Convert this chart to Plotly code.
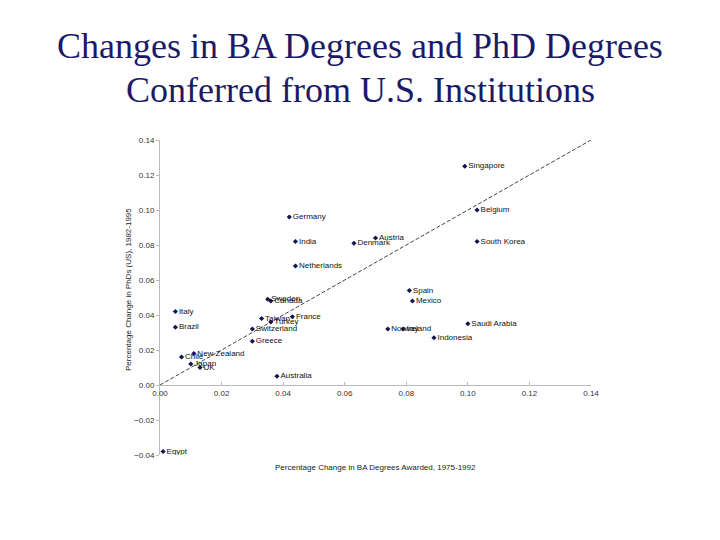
import plotly.graph_objects as go

countries = ["Singapore", "Belgium", "South Korea", "Germany", "India", "Denmark", "Austria",
             "Netherlands", "Spain", "Mexico", "Sweden", "Canada", "France", "Taiwan", "Turkey",
             "Switzerland", "Greece", "Italy", "Brazil", "New Zealand", "Chile", "Japan", "UK",
             "Australia", "Norway", "Ireland", "Indonesia", "Saudi Arabia", "Egypt"]
ba_change = [0.099, 0.103, 0.103, 0.042, 0.044, 0.063, 0.070,
             0.044, 0.081, 0.082, 0.035, 0.036, 0.043, 0.033, 0.036,
             0.030, 0.030, 0.005, 0.005, 0.011, 0.007, 0.010, 0.013,
             0.038, 0.074, 0.079, 0.089, 0.100, 0.001]
phd_change = [0.125, 0.100, 0.082, 0.096, 0.082, 0.081, 0.084,
              0.068, 0.054, 0.048, 0.049, 0.048, 0.039, 0.038, 0.036,
              0.032, 0.025, 0.042, 0.033, 0.018, 0.016, 0.012, 0.010,
              0.005, 0.032, 0.032, 0.027, 0.035, -0.038]
line_x = [0.0, 0.14]
line_y = [0.0, 0.14]
x_ticks = [0.0, 0.02, 0.04, 0.06, 0.08, 0.10, 0.12, 0.14]
y_ticks = [-0.04, -0.02, 0.0, 0.02, 0.04, 0.06, 0.08, 0.10, 0.12, 0.14]

fig = go.Figure()
fig.add_trace(go.Scatter(x=line_x, y=line_y, mode="lines",
                         line=dict(color="#444444", width=1, dash="4px,2px"),
                         hoverinfo="skip", showlegend=False))
fig.add_trace(go.Scatter(x=ba_change, y=phd_change, mode="markers+text",
                         text=countries, textposition="middle right",
                         textfont=dict(family="Liberation Sans, Arial", size=8, color="#111111"),
                         marker=dict(symbol="diamond", size=4, color="#14144f"),
                         showlegend=False))

axis_font = dict(family="Liberation Sans, Arial", size=8, color="#333333")
title_font = dict(family="Liberation Serif, Times New Roman", size=36, color="#1a1a66")
fig.update_layout(
    width=720, height=540,
    margin=dict(l=152, r=137, t=132, b=93),
    paper_bgcolor="white", plot_bgcolor="white",
    xaxis=dict(range=[0, 0.14], tickvals=x_ticks, tickformat=".2f",
               showgrid=False, zeroline=False, showline=True, linecolor="#bbbbbb", linewidth=1,
               ticks="inside", ticklen=3, tickcolor="#bbbbbb",
               anchor="free", position=0.04 / 0.18, tickfont=axis_font),
    yaxis=dict(range=[-0.04, 0.14], tickvals=y_ticks, tickformat=".2f",
               showgrid=False, zeroline=False, showline=True, linecolor="#bbbbbb", linewidth=1,
               ticks="outside", ticklen=3, tickcolor="#bbbbbb", tickfont=axis_font),
    annotations=[
        dict(text="Changes in BA Degrees and PhD Degrees", xref="paper", yref="paper",
             x=(360 - 160) / 431, y=(455 - 46) / 315, xanchor="center", yanchor="middle",
             showarrow=False, font=title_font),
        dict(text="Conferred from U.S. Institutions", xref="paper", yref="paper",
             x=(360 - 160) / 431, y=(455 - 90) / 315, xanchor="center", yanchor="middle",
             showarrow=False, font=title_font),
        dict(text="Percentage Change in BA Degrees Awarded, 1975-1992", xref="paper", yref="paper",
             x=0.5, y=(455 - 467) / 315, xanchor="center", yanchor="middle", showarrow=False,
             font=dict(family="Liberation Sans, Arial", size=8, color="#222222")),
        dict(text="Percentage Change in PhDs (US), 1982-1995", xref="paper", yref="paper",
             x=(128 - 160) / 431, y=(455 - 290) / 315, xanchor="center", yanchor="middle",
             textangle=-90, showarrow=False,
             font=dict(family="Liberation Sans, Arial", size=8, color="#222222")),
    ],
)
fig.write_html("out.html")
